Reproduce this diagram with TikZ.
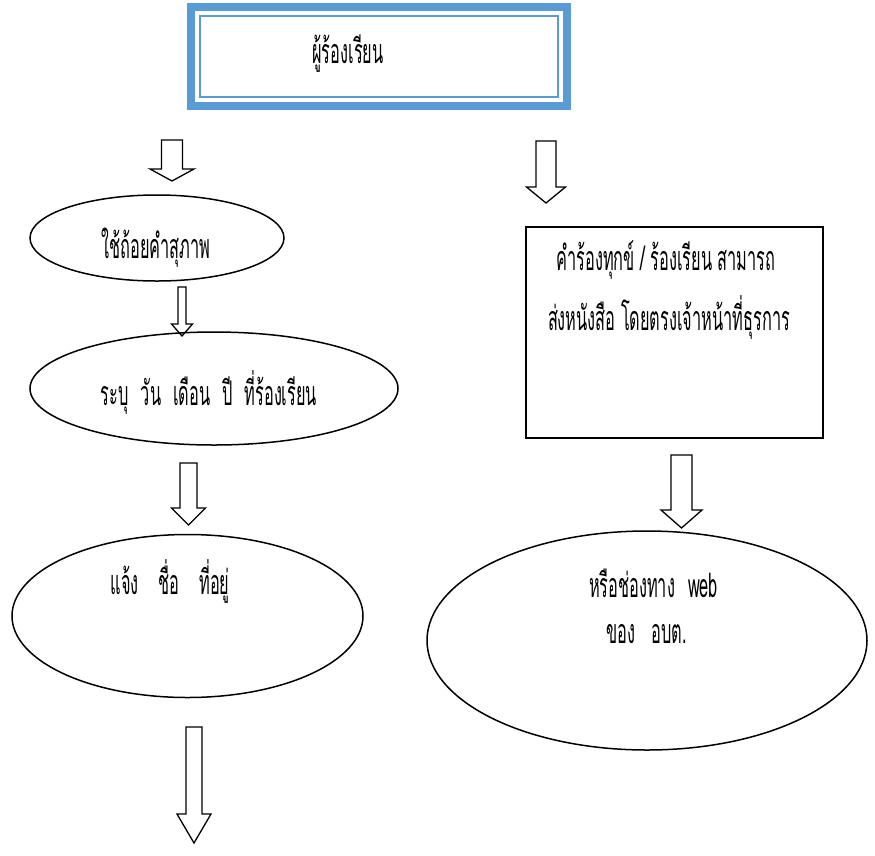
\documentclass[tikz,border=0pt]{standalone}
\usepackage{fontspec}
\newfontfamily\thaifont[Script=Thai,FakeStretch=0.48]{Loma}
\usetikzlibrary{shapes.geometric}
\definecolor{frameblue}{HTML}{5B9BD5}
\tikzset{
  oval/.style={draw=black,line width=1.5pt,ellipse,inner sep=0pt},
  boxrect/.style={draw=black,line width=1.5pt,rectangle,inner sep=0pt},
  lbl/.style={anchor=base,inner sep=0pt,font=\thaifont\fontsize{34}{38}\selectfont},
  barrow/.style={draw=black,line width=1.3pt,fill=white,line join=miter},
}
% #1 x, #2 ytop, #3 shaft half width, #4 y head, #5 head half width, #6 y tip
\newcommand{\blockarrow}[6]{%
  \draw[barrow] (#1-#3,#2) -- (#1+#3,#2) -- (#1+#3,#4) -- (#1+#5,#4) -- (#1,#6)
    -- (#1-#5,#4) -- (#1-#3,#4) -- cycle;}
\newcommand{\gap}[1]{\hspace*{#1pt}}
\begin{document}
\begin{tikzpicture}[x=1pt,y=-1pt]
\useasboundingbox (0,0) rectangle (875,855);
% top box
\draw[frameblue,line width=8pt] (191,7) rectangle (567,105.5);
\draw[frameblue,line width=2pt] (200,16) rectangle (558,97);
\node[lbl] (t0) at (348,63) {ผู้ร้องเรียน};
% left column
\blockarrow{172}{140}{10.5}{169}{22}{181}
\node[oval,minimum width=254pt,minimum height=86pt] (e1) at (157,238) {};
\node[lbl] (t1) at (156,258) {ใช้ถ้อยคำสุภาพ};
\blockarrow{182}{287}{4}{324}{10.5}{336}
\node[oval,minimum width=368pt,minimum height=113pt] (e2) at (214,388.5) {};
\node[lbl] (t2) at (209,405) {ระบุ\gap{12}วัน\gap{12}เดือน\gap{12}ปี\gap{12}ที่ร้องเรียน};
\blockarrow{188.5}{463}{8.5}{508}{17}{525}
\node[oval,minimum width=351pt,minimum height=163pt] (e3) at (187.5,616) {};
\node[lbl] (t3) at (170,594) {แจ้ง\gap{20}ชื่อ\gap{20}ที่อยู่};
\blockarrow{194}{727}{8}{814}{17}{843}
% right column
\blockarrow{546}{141}{10}{187}{19.5}{203}
\node[boxrect,minimum width=297pt,minimum height=211pt] (r1) at (674.5,332.5) {};
\node[lbl] (t4) at (666,270) {คำร้องทุกข์ / ร้องเรียน สามารถ};
\node[lbl] (t5) at (669,330) {ส่งหนังสือ โดยตรงเจ้าหน้าที่ธุรการ};
\blockarrow{681.5}{455}{10.5}{510}{20.5}{528}
\node[oval,minimum width=440pt,minimum height=219pt] (e4) at (647,640.5) {};
\node[lbl] (t6) at (653.5,597) {หรือช่องทาง\gap{13}web};
\node[lbl] (t7) at (646.5,643) {ของ\gap{16}อบต.};
\end{tikzpicture}
\end{document}
